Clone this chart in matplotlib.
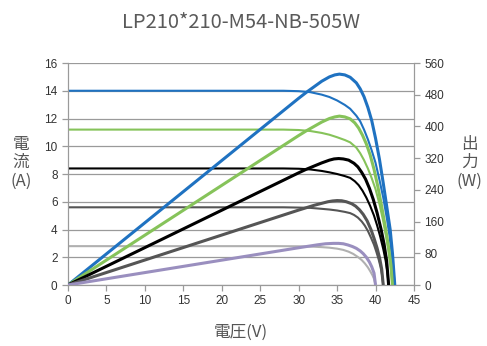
import matplotlib
matplotlib.use("Agg")
import matplotlib.pyplot as plt

plt.rcParams["font.family"] = ["Liberation Sans", "DejaVu Sans"]

TITLE = "LP210*210-M54-NB-505W"
CJK = ["Noto Sans CJK JP", "DejaVu Sans"]

# I-V curves (current in A), 1000 -> 200 W/m2
iv_1000_v = [0, 28, 30, 31.5, 33, 34, 35, 36, 36.7, 37.5, 38, 38.5, 39, 39.5, 40, 40.5, 41, 41.5, 41.8, 42.2, 42.5]
iv_1000_i = [14.0, 14.0, 13.97, 13.9, 13.72, 13.55, 13.3, 12.98, 12.7, 12.2, 11.8, 11.2, 10.5, 9.7, 8.8, 7.6, 6.3, 4.7, 3.6, 1.8, 0]

iv_800_v = [0, 28, 30, 31.5, 33, 34, 35, 36, 36.7, 37.5, 38, 38.5, 39, 39.5, 40, 40.5, 41, 41.4, 41.7, 42.0, 42.2]
iv_800_i = [11.2, 11.2, 11.17, 11.1, 10.96, 10.83, 10.65, 10.45, 10.28, 9.9, 9.5, 9.0, 8.4, 7.7, 6.9, 5.85, 4.6, 3.4, 2.4, 1.2, 0]

iv_600_v = [0, 28, 30, 31.5, 33, 34, 35, 36, 36.7, 37.3, 37.8, 38.3, 38.8, 39.3, 39.8, 40.2, 40.6, 41.0, 41.3, 41.55, 41.7]
iv_600_i = [8.4, 8.4, 8.38, 8.33, 8.22, 8.12, 8.0, 7.85, 7.72, 7.48, 7.2, 6.8, 6.3, 5.7, 5.0, 4.3, 3.5, 2.6, 1.8, 0.9, 0]

iv_400_v = [0, 28, 30, 31.5, 33, 34, 35, 36, 36.7, 37.2, 37.7, 38.2, 38.6, 39.0, 39.4, 39.8, 40.1, 40.4, 40.65, 40.85, 41.0]
iv_400_i = [5.6, 5.6, 5.58, 5.56, 5.49, 5.44, 5.37, 5.27, 5.18, 5.05, 4.86, 4.58, 4.28, 3.9, 3.42, 2.9, 2.4, 1.85, 1.3, 0.7, 0]

iv_200_v = [0, 27, 30, 32, 33, 34, 35, 35.8, 36.5, 37.1, 37.7, 38.2, 38.6, 39.0, 39.3, 39.6, 39.8, 40.0]
iv_200_i = [2.8, 2.8, 2.79, 2.76, 2.73, 2.69, 2.62, 2.53, 2.4, 2.24, 2.02, 1.8, 1.56, 1.27, 1.0, 0.7, 0.45, 0]

# P-V curves (power in W, right axis)
pv_1000_v = [0, 30, 31, 32, 33, 34, 34.7, 35.3, 36, 36.7, 37.5, 38, 38.5, 39, 39.5, 40, 40.5, 41, 41.5, 41.9, 42.2, 42.5]
pv_1000_p = [0, 471, 486, 500, 514, 525, 530, 532, 530, 524, 510, 495, 475, 448, 415, 370, 318, 257, 192, 140, 80, 0]

pv_800_v = [0, 30, 31, 32, 33, 34, 34.7, 35.3, 36, 36.7, 37.3, 37.8, 38.3, 38.8, 39.3, 39.8, 40.3, 40.8, 41.3, 41.7, 42.0, 42.2]
pv_800_p = [0, 377, 389, 400, 411, 420, 424, 426, 424, 419, 409, 396, 378, 356, 328, 292, 248, 198, 143, 95, 50, 0]

pv_600_v = [0, 30, 31, 32, 33, 34, 34.6, 35.2, 35.8, 36.5, 37.2, 37.7, 38.2, 38.7, 39.2, 39.7, 40.2, 40.7, 41.1, 41.45, 41.7]
pv_600_p = [0, 283, 292, 300, 308, 315, 318, 319, 318, 315, 307, 298, 284, 267, 244, 216, 182, 142, 104, 60, 0]

pv_400_v = [0, 30, 31, 32, 33, 33.8, 34.4, 35, 35.6, 36.2, 36.9, 37.4, 37.9, 38.4, 38.9, 39.4, 39.8, 40.2, 40.55, 40.8, 41.0]
pv_400_p = [0, 189, 195, 201, 206, 210, 212, 213, 212.5, 210, 205, 199, 190, 178, 162, 140, 118, 93, 66, 40, 0]

pv_200_v = [0, 30, 31.5, 32.5, 33.5, 34.5, 35.2, 35.8, 36.4, 37.0, 37.5, 38, 38.4, 38.8, 39.2, 39.5, 39.8, 40.0]
pv_200_p = [0, 94, 98.5, 101.5, 104, 105, 105, 104, 101, 97, 92.5, 86, 79, 70, 58, 46, 30, 0]

iv_curves = [
    (iv_1000_v, iv_1000_i, "#1f72c1"),
    (iv_800_v, iv_800_i, "#86c35a"),
    (iv_600_v, iv_600_i, "#000000"),
    (iv_400_v, iv_400_i, "#555555"),
    (iv_200_v, iv_200_i, "#b0b0b0"),
]
pv_curves = [
    (pv_1000_v, pv_1000_p, "#1f72c1"),
    (pv_800_v, pv_800_p, "#86c35a"),
    (pv_600_v, pv_600_p, "#000000"),
    (pv_400_v, pv_400_p, "#555555"),
    (pv_200_v, pv_200_p, "#9a8fbf"),
]

fig = plt.figure(figsize=(4.87, 3.46), dpi=100)
ax = fig.add_axes([0.1396, 0.1763, 0.7105, 0.6416])
ax2 = ax.twinx()

grid_c = "#9a9a9a"
for v, i, c in iv_curves:
    ax.plot(v, i, color=c, lw=1.5, solid_capstyle="butt", solid_joinstyle="round", zorder=3)
for v, p, c in pv_curves:
    ax2.plot(v, p, color=c, lw=2.2, solid_capstyle="butt", solid_joinstyle="round", zorder=3)

ax.set_xlim(0, 45)
ax.set_ylim(0, 16)
ax2.set_ylim(0, 560)
ax.set_xticks(range(0, 46, 5))
ax.set_yticks(range(0, 17, 2))
ax2.set_yticks(range(0, 561, 80))
ax.yaxis.grid(True, color=grid_c, lw=0.9)
ax.set_axisbelow(True)

for a in (ax, ax2):
    for s in a.spines.values():
        s.set_color(grid_c)
    a.spines["top"].set_visible(False)
    a.tick_params(colors=grid_c, labelcolor="#333333", labelsize=8.5, length=4, width=0.9)

ax.set_title(TITLE, family=CJK, fontsize=14.5, color="#5a5a5a", pad=25)
ax.set_xlabel("電圧(V)", family=CJK, fontsize=12, color="#555555", labelpad=12)
fig.text(0.043, 0.53, "電\n流\n(A)", family=CJK, fontsize=12, color="#555555",
         ha="center", va="center", linespacing=1.1)
fig.text(0.963, 0.53, "出\n力\n(W)", family=CJK, fontsize=12, color="#555555",
         ha="center", va="center", linespacing=1.1)

fig.savefig("out.png", dpi=100)
